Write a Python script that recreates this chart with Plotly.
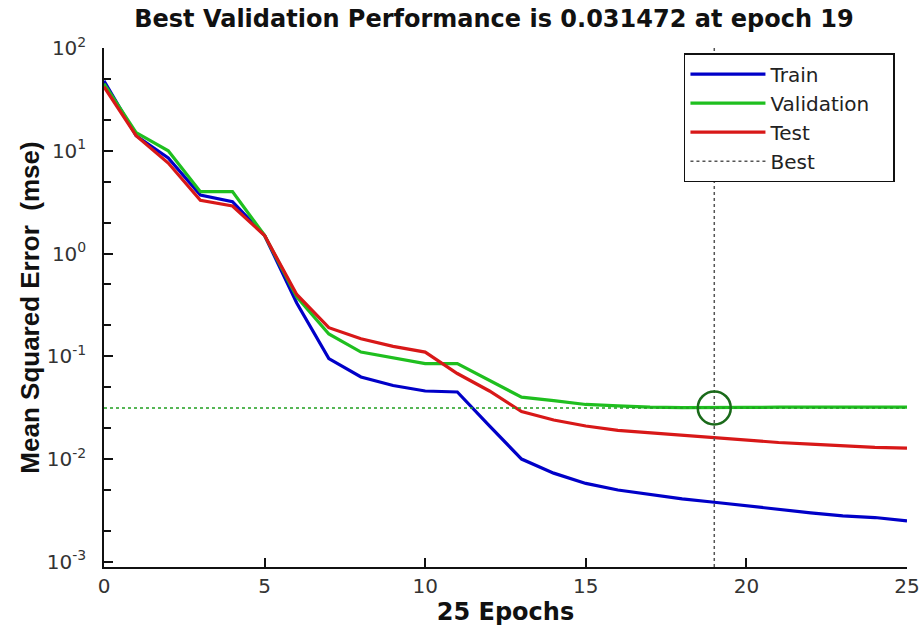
import plotly.graph_objects as go

epochs = list(range(0, 26))
train = [48, 14, 8.5, 3.7, 3.2, 1.5, 0.33, 0.095, 0.063, 0.052, 0.046, 0.045, 0.021,
         0.0100, 0.0073, 0.0058, 0.0050, 0.0045, 0.0041, 0.0038, 0.0035, 0.0032, 0.0030,
         0.0028, 0.0027, 0.0025]
validation = [45, 15, 10, 4.0, 4.0, 1.5, 0.38, 0.165, 0.11, 0.096, 0.085, 0.085, 0.058,
              0.040, 0.037, 0.034, 0.033, 0.032, 0.0317, 0.031472, 0.0318, 0.032, 0.032,
              0.032, 0.032, 0.032]
test = [42, 14, 7.6, 3.3, 2.9, 1.5, 0.40, 0.19, 0.148, 0.125, 0.11, 0.068, 0.046,
        0.029, 0.024, 0.021, 0.019, 0.018, 0.017, 0.016, 0.0152, 0.0145, 0.014,
        0.0135, 0.013, 0.0128]
best_epoch = 19
best_perf = 0.031472

y_tickvals = [1e-3, 1e-2, 1e-1, 1e0, 1e1, 1e2]
y_ticktext = ["10<sup>-3</sup>", "10<sup>-2</sup>", "10<sup>-1</sup>",
              "10<sup>0</sup>", "10<sup>1</sup>", "10<sup>2</sup>"]
x_tickvals = [0, 5, 10, 15, 20, 25]
y_log_range = [-3.05, 2.0]

WIDE = "DejaVu Sans, Arial, sans-serif"
NARROW = "Liberation Sans, Arial, sans-serif"
PAD = "\u00a0\u00a0\u00a0"  # right padding inside the legend box

fig = go.Figure()
fig.add_trace(go.Scatter(x=epochs, y=train, mode="lines", name="Train",
                         line=dict(color="#0000C8", width=3.2)))
fig.add_trace(go.Scatter(x=epochs, y=validation, mode="lines", name="Validation" + PAD,
                         line=dict(color="#1FBF1F", width=3.2)))
fig.add_trace(go.Scatter(x=epochs, y=test, mode="lines", name="Test",
                         line=dict(color="#D81818", width=3.2)))
# Best: vertical dotted line
fig.add_trace(go.Scatter(x=[best_epoch, best_epoch],
                         y=[10 ** y_log_range[0], 10 ** y_log_range[1]],
                         mode="lines", name="Best",
                         line=dict(color="#555555", width=1.5, dash="dot")))
# Best: horizontal dotted line
fig.add_trace(go.Scatter(x=[epochs[0], epochs[-1]], y=[best_perf, best_perf],
                         mode="lines", showlegend=False,
                         line=dict(color="#1F9F1F", width=1.5, dash="dot")))
# Best marker
fig.add_trace(go.Scatter(x=[best_epoch], y=[best_perf], mode="markers", showlegend=False,
                         marker=dict(symbol="circle-open", size=33,
                                     color="#1A6A1A", line=dict(width=2.5, color="#1A6A1A"))))

fig.update_layout(
    width=922, height=628,
    margin=dict(l=104, r=15, t=48, b=61, autoexpand=False),
    paper_bgcolor="white", plot_bgcolor="white",
    font=dict(family=WIDE, color="#111111"),
    title=dict(text="<b>Best Validation Performance is 0.031472 at epoch 19</b>",
               x=494 / 922, xref="container", xanchor="center",
               y=1 - 19 / 628, yref="container", yanchor="middle",
               font=dict(size=24, family=WIDE, color="#111111")),
    legend=dict(x=0.985, xanchor="right", y=0.99, yanchor="top",
                bordercolor="#111111", borderwidth=1.5, bgcolor="white",
                font=dict(size=20, family=WIDE, color="#222222"),
                itemwidth=75, tracegroupgap=0),
    showlegend=True,
)
fig.update_xaxes(range=[0, 25], tickvals=x_tickvals, ticks="inside", ticklen=9,
                 tickwidth=1.5, tickcolor="#111111", automargin=False,
                 showline=True, linecolor="#111111", linewidth=1.5, mirror=False,
                 showgrid=False, zeroline=False,
                 tickfont=dict(size=20, family=WIDE, color="#333333"),
                 title=dict(text="<b>25 Epochs</b>",
                            font=dict(size=24, family=WIDE, color="#111111"),
                            standoff=0))
fig.update_yaxes(type="log", range=y_log_range, tickvals=y_tickvals, ticktext=y_ticktext,
                 ticks="inside", ticklen=9, tickwidth=1.5, tickcolor="#111111",
                 automargin=False, ticklabelstandoff=12,
                 minor=dict(ticks="inside", ticklen=7, tickcolor="#111111", showgrid=False),
                 showline=True, linecolor="#111111", linewidth=1.5, mirror=False,
                 showgrid=False, zeroline=False,
                 tickfont=dict(size=20, family=WIDE, color="#333333"),
                 title=dict(text="<b>Mean Squared Error  (mse)</b>",
                            font=dict(size=26, family=NARROW, color="#111111"), standoff=0))

fig.write_html("out.html")
